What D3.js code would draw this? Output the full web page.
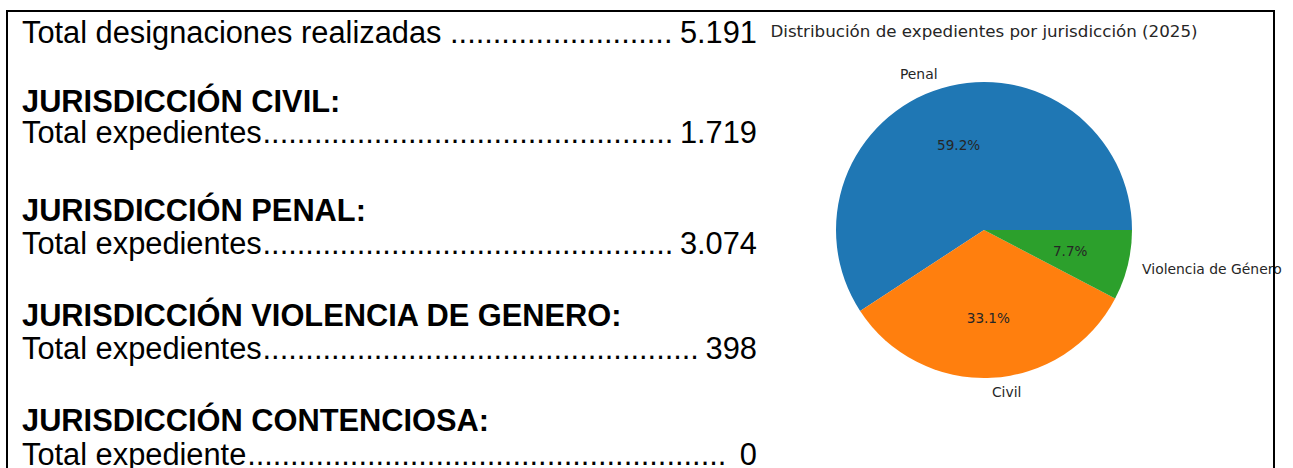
<!DOCTYPE html>
<html lang="es">
<head>
    <meta charset="UTF-8">
    <title>Distribución de expedientes por jurisdicción (2025)</title>
    <script src="https://d3js.org/d3.v7.min.js"></script>
    <style>
        body { margin: 0; background: #fff; }
        .doc { font-family: "Liberation Sans", Arial, sans-serif; font-size: 30.8px; fill: #000; }
        .doc .bold { font-weight: bold; }
        .mpl { font-family: "DejaVu Sans", sans-serif; fill: #262626; }
    </style>
</head>
<body>
    <div id="chart"></div>

    <script>
        // datos del informe
        const totalLabel = "Total designaciones realizadas";
        const totalValue = 5191;
        const headings = ["JURISDICCIÓN CIVIL:", "JURISDICCIÓN PENAL:", "JURISDICCIÓN VIOLENCIA DE GENERO:", "JURISDICCIÓN CONTENCIOSA:"];
        const rowLabels = ["Total expedientes", "Total expedientes", "Total expedientes", "Total expediente"];
        const expedientes = [1719, 3074, 398, 0];

        // datos del gráfico de tarta
        const pieTitle = "Distribución de expedientes por jurisdicción (2025)";
        const pieLabels = ["Penal", "Civil", "Violencia de Género"];
        const pieValues = [3074, 1719, 398];
        const pieColors = ["#1f77b4", "#ff7f0e", "#2ca02c"];

        const width = 1293, height = 468;
        const es = d3.formatLocale({decimal: ",", thousands: ".", grouping: [3], currency: ["", " €"]});
        const fmt = es.format(",");

        const svg = d3.select("#chart")
                      .append("svg")
                      .attr("width", width)
                      .attr("height", height);

        // ---- columna de texto ----
        const textX = 22, valueX = 757;
        const doc = svg.append("g").attr("class", "doc");

        // baselines de titulos y filas por jurisdiccion
        const headY = [112, 221, 326, 431];
        const rowY = [143, 254, 359, 465];

        // fila con relleno de puntos (como un tabulador de Word)
        function leaderRow(label, value, y, gap) {
            const g = doc.append("g");
            const lab = g.append("text").attr("x", textX).attr("y", y).text(label);
            const val = g.append("text").attr("x", valueX).attr("y", y)
                         .attr("text-anchor", "end").text(fmt(value));
            const probe = g.append("text").attr("y", y).text(".");
            const dotW = probe.node().getComputedTextLength();
            probe.remove();
            const start = textX + lab.node().getComputedTextLength() + gap * dotW;
            const end = valueX - val.node().getComputedTextLength() - 0.6 * dotW;
            const n = Math.max(0, Math.floor((end - start) / dotW));
            g.append("text").attr("x", start).attr("y", y).text(".".repeat(n));
        }

        leaderRow(totalLabel, totalValue, 43, 1);

        headings.forEach((h, i) => {
            doc.append("text").attr("class", "bold").attr("x", textX).attr("y", headY[i]).text(h);
            leaderRow(rowLabels[i], expedientes[i], rowY[i], 0.1);
        });

        // ---- gráfico de tarta (estilo matplotlib: empieza a las 3, sentido antihorario) ----
        const cx = 984, cy = 230, radius = 148;
        const total = d3.sum(pieValues);
        const pct = d3.format(".1%");

        const pie = d3.pie().sort(null).value(d => d)
                      .startAngle(Math.PI / 2)
                      .endAngle(Math.PI / 2 - 2 * Math.PI);
        const arc = d3.arc().innerRadius(0).outerRadius(radius);
        const color = d3.scaleOrdinal().domain(pieLabels).range(pieColors);

        const pg = svg.append("g").attr("transform", `translate(${cx}, ${cy})`);

        const arcs = pg.selectAll(".arc")
                       .data(pie(pieValues))
                       .enter()
                       .append("g")
                       .attr("class", "arc");

        arcs.append("path")
            .attr("d", arc)
            .attr("fill", (d, i) => color(pieLabels[i]));

        const mid = d => (d.startAngle + d.endAngle) / 2;

        arcs.append("text")
            .attr("class", "mpl")
            .attr("font-size", 13.6)
            .attr("x", d => radius * 0.6 * Math.sin(mid(d)))
            .attr("y", d => -radius * 0.6 * Math.cos(mid(d)))
            .attr("dy", "0.35em")
            .attr("text-anchor", "middle")
            .text(d => pct(d.value / total));

        arcs.append("text")
            .attr("class", "mpl")
            .attr("font-size", 13.9)
            .attr("x", d => radius * 1.1 * Math.sin(mid(d)))
            .attr("y", d => -radius * 1.1 * Math.cos(mid(d)))
            .attr("dy", "0.35em")
            .attr("text-anchor", d => Math.sin(mid(d)) > 0 ? "start" : "end")
            .text((d, i) => pieLabels[i]);

        svg.append("text")
           .attr("class", "mpl")
           .attr("font-size", 16.7)
           .attr("x", cx)
           .attr("y", 37)
           .attr("text-anchor", "middle")
           .text(pieTitle);

        // recuadro del documento
        svg.append("rect")
           .attr("x", 7)
           .attr("y", 11)
           .attr("width", 1274 - 7)
           .attr("height", 500)
           .attr("fill", "none")
           .attr("stroke", "#000")
           .attr("stroke-width", 2);
    </script>
</body>
</html>
